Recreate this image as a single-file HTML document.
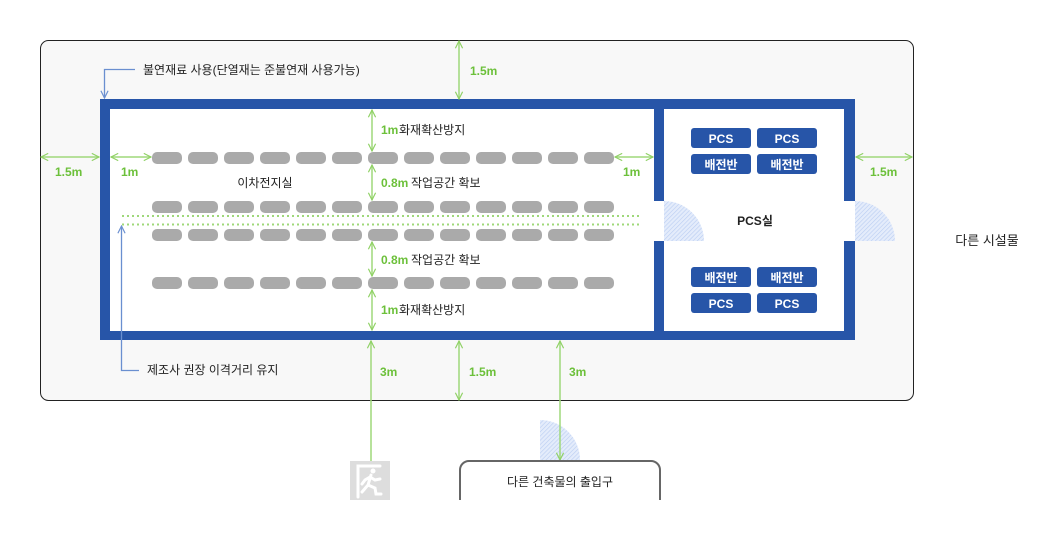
<!DOCTYPE html>
<html><head><meta charset="utf-8"><style>
html,body{margin:0;padding:0;background:#fff}
svg{display:block;font-family:"Liberation Sans","Noto Sans CJK KR",sans-serif}
</style></head><body>
<svg width="1060" height="541" viewBox="0 0 1060 541" xmlns="http://www.w3.org/2000/svg">
<defs>
<pattern id="h" width="3" height="3" patternUnits="userSpaceOnUse" patternTransform="rotate(45)">
<rect width="3" height="3" fill="#e4ecfb"/><line x1="0" y1="0" x2="0" y2="3" stroke="#b9cdf2" stroke-width="1.2"/></pattern>
<marker id="a" viewBox="0 0 10 10" refX="9" refY="5" markerWidth="9" markerHeight="9" orient="auto-start-reverse" markerUnits="userSpaceOnUse">
<path d="M1,1 L9,5 L1,9" fill="none" stroke="#8fd164" stroke-width="1.3"/></marker>
<marker id="b" viewBox="0 0 10 10" refX="9" refY="5" markerWidth="9" markerHeight="9" orient="auto" markerUnits="userSpaceOnUse">
<path d="M1,1 L9,5 L1,9" fill="none" stroke="#6a8fd0" stroke-width="1.3"/></marker>
</defs>
<rect x="40.5" y="40.5" width="873" height="360" rx="8" fill="#f8f8f8" stroke="#222" stroke-width="1"/>
<rect x="100" y="99" width="755" height="241" fill="#2755a8"/>
<rect x="110" y="109" width="544" height="222" fill="#fff"/>
<rect x="664" y="109" width="180" height="222" fill="#fff"/>
<rect x="654" y="201" width="12" height="40" fill="#fff"/>
<rect x="843" y="201" width="13" height="40" fill="#fff"/>
<path d="M664,241 L664,201 A40,40 0 0 1 704,241 Z" fill="url(#h)"/>
<path d="M855,241 L855,201 A40,40 0 0 1 895,241 Z" fill="url(#h)"/>
<path d="M540,460 L540,420 A40,40 0 0 1 580,460 Z" fill="url(#h)"/>
<g fill="#aaa">
<g id="r"><rect x="152" y="152" width="30" height="12" rx="5"/><rect x="188" y="152" width="30" height="12" rx="5"/><rect x="224" y="152" width="30" height="12" rx="5"/><rect x="260" y="152" width="30" height="12" rx="5"/><rect x="296" y="152" width="30" height="12" rx="5"/><rect x="332" y="152" width="30" height="12" rx="5"/><rect x="368" y="152" width="30" height="12" rx="5"/><rect x="404" y="152" width="30" height="12" rx="5"/><rect x="440" y="152" width="30" height="12" rx="5"/><rect x="476" y="152" width="30" height="12" rx="5"/><rect x="512" y="152" width="30" height="12" rx="5"/><rect x="548" y="152" width="30" height="12" rx="5"/><rect x="584" y="152" width="30" height="12" rx="5"/></g>
<use href="#r" y="49"/><use href="#r" y="77"/><use href="#r" y="125"/>
</g>
<line x1="122" y1="216" x2="642" y2="216" stroke="#9fd87a" stroke-width="2" stroke-dasharray="2,3"/>
<line x1="122" y1="224.5" x2="642" y2="224.5" stroke="#9fd87a" stroke-width="2" stroke-dasharray="2,3"/>
<g fill="#2755a8">
<rect x="691" y="128" width="60" height="20" rx="3"/><rect x="757" y="128" width="60" height="20" rx="3"/>
<rect x="691" y="154" width="60" height="20" rx="3"/><rect x="757" y="154" width="60" height="20" rx="3"/>
<rect x="691" y="267" width="60" height="20" rx="3"/><rect x="757" y="267" width="60" height="20" rx="3"/>
<rect x="691" y="293" width="60" height="20" rx="3"/><rect x="757" y="293" width="60" height="20" rx="3"/>
</g>
<g fill="#fff" font-size="12" text-anchor="middle" font-weight="bold">
<text x="721" y="143">PCS</text><text x="787" y="143">PCS</text>
<text x="721" y="169">배전반</text><text x="787" y="169">배전반</text>
<text x="721" y="282">배전반</text><text x="787" y="282">배전반</text>
<text x="721" y="308">PCS</text><text x="787" y="308">PCS</text>
</g>
<g stroke="#9fd87a" stroke-width="1.5" marker-start="url(#a)" marker-end="url(#a)">
<line x1="459" y1="41" x2="459" y2="99"/>
<line x1="372" y1="110" x2="372" y2="151"/>
<line x1="372" y1="165" x2="372" y2="200"/>
<line x1="372" y1="242" x2="372" y2="276"/>
<line x1="372" y1="290" x2="372" y2="330"/>
<line x1="371" y1="341" x2="371" y2="470"/>
<line x1="459" y1="341" x2="459" y2="400"/>
<line x1="560" y1="341" x2="560" y2="460"/>
<line x1="41" y1="157" x2="99" y2="157"/>
<line x1="111" y1="157" x2="151" y2="157"/>
<line x1="615" y1="157" x2="653" y2="157"/>
<line x1="856" y1="157" x2="912" y2="157"/>
</g>
<g fill="#6cc03a" font-size="12" font-weight="bold">
<text x="470" y="75">1.5m</text>
<text x="55" y="176">1.5m</text>
<text x="121" y="176">1m</text>
<text x="623" y="176">1m</text>
<text x="870" y="176">1.5m</text>
<text x="381" y="134">1m</text>
<text x="381" y="187">0.8m</text>
<text x="381" y="264">0.8m</text>
<text x="381" y="314">1m</text>
<text x="380" y="376">3m</text>
<text x="469" y="376">1.5m</text>
<text x="569" y="376">3m</text>
</g>
<g fill="#222" font-size="12">
<text x="399" y="134">화재확산방지</text>
<text x="411" y="187">작업공간 확보</text>
<text x="411" y="264">작업공간 확보</text>
<text x="399" y="314">화재확산방지</text>
<text x="265" y="187" text-anchor="middle">이차전지실</text>
<text x="755" y="225" text-anchor="middle" font-weight="bold">PCS실</text>
<text x="143" y="74">불연재료 사용(단열재는 준불연재 사용가능)</text>
<text x="147" y="374">제조사 권장 이격거리 유지</text>
<text x="987" y="245" text-anchor="middle" font-size="13">다른 시설물</text>
</g>
<path d="M135,69.5 H104.5 V98" fill="none" stroke="#6a8fd0" stroke-width="1.3" marker-end="url(#b)"/>
<path d="M139,370.5 H121.5 V226" fill="none" stroke="#6a8fd0" stroke-width="1.3" marker-end="url(#b)"/>
<rect x="350" y="461" width="40" height="39" fill="#ddd"/>
<g stroke="#fff" stroke-width="3" fill="none" stroke-linecap="round">
<path d="M358,497 V466 H380"/>
<path d="M371,475 L368,485 L362,492 M368,485 L375,488 L376,494 H381 M370,477 L375,480 L380,479 M370,477 L365,480 L362,484"/>
</g>
<circle cx="373" cy="471" r="2.5" fill="#fff"/>
<path d="M460,500 V470 A9,9 0 0 1 469,461 H651 A9,9 0 0 1 660,470 V500" fill="#fff" stroke="#666" stroke-width="2"/>
<text x="560" y="486" text-anchor="middle" font-size="12" fill="#222">다른 건축물의 출입구</text>
</svg>
</body></html>
